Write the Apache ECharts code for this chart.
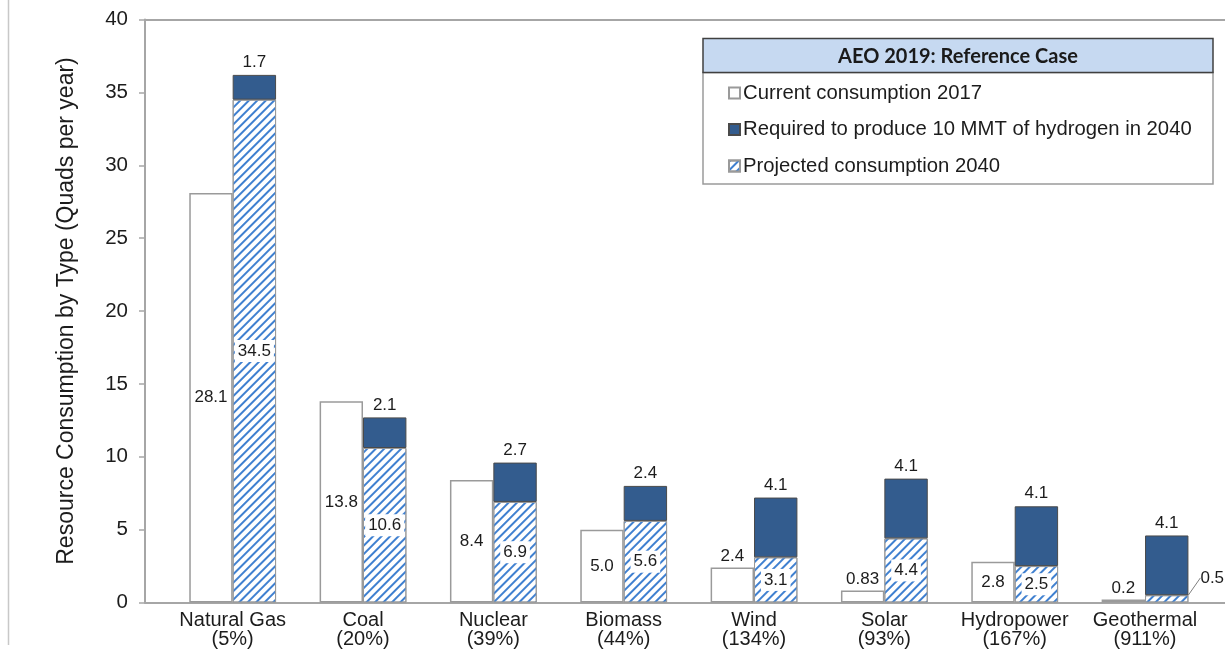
<!DOCTYPE html>
<html>
<head>
<meta charset="utf-8">
<script src="https://cdn.jsdelivr.net/npm/echarts@6/dist/echarts.min.js"></script>
<style>
  html, body { margin: 0; padding: 0; background: #fff; }
  #main { width: 1225px; height: 653px; }
</style>
</head>
<body>
<div id="main"></div>
<script>
// data
const categories = ['Natural Gas', 'Coal', 'Nuclear', 'Biomass', 'Wind', 'Solar', 'Hydropower', 'Geothermal'];
const growthPct = ['5%', '20%', '39%', '44%', '134%', '93%', '167%', '911%'];
const current2017 = [28.1, 13.8, 8.4, 5.0, 2.4, 0.83, 2.8, 0.2];
const projected2040 = [34.5, 10.6, 6.9, 5.6, 3.1, 4.4, 2.5, 0.5];
const requiredH2 = [1.7, 2.1, 2.7, 2.4, 4.1, 4.1, 4.1, 4.1];
const yTicks = { min: 0, max: 40, interval: 5 };

const FONT = 'Liberation Sans';
const TXT = '#1c1c1c';
const AXIS_GRAY = '#a6a6a6';

// 5 -> "5.0", 0.83 stays "0.83"
const fmt = v => (String(v).indexOf('.') >= 0 ? String(v) : v.toFixed(1));

const chart = echarts.init(document.getElementById('main'));

const option = {
  animation: false,
  textStyle: { fontFamily: FONT },
  grid: [
    // bars
    { left: 167.5, right: 14.8, top: 19.5, bottom: 50.5 },
    // frame (axis lines run to the cropped right edge)
    { left: 145, right: -20, top: 19.5, bottom: 50.5 }
  ],
  xAxis: [
    {
      type: 'category',
      gridIndex: 0,
      data: categories.map((c, i) => c + '\n(' + growthPct[i] + ')'),
      axisLine: { show: false },
      axisTick: { show: false },
      axisLabel: { fontFamily: FONT, fontSize: 20, lineHeight: 19, color: TXT, margin: 8, interval: 0 }
    },
    {
      type: 'value', gridIndex: 1, position: 'bottom', min: 0, max: 1,
      axisLine: { show: true, lineStyle: { color: AXIS_GRAY, width: 2 } },
      axisTick: { show: false }, axisLabel: { show: false }, splitLine: { show: false }
    },
    {
      type: 'value', gridIndex: 1, position: 'top', min: 0, max: 1,
      axisLine: { show: true, lineStyle: { color: AXIS_GRAY, width: 2 } },
      axisTick: { show: false }, axisLabel: { show: false }, splitLine: { show: false }
    }
  ],
  yAxis: [
    { type: 'value', gridIndex: 0, ...yTicks, show: false, splitLine: { show: false } },
    {
      type: 'value', gridIndex: 1, ...yTicks,
      name: 'Resource Consumption by Type (Quads per year)',
      nameLocation: 'middle',
      nameGap: 67,
      nameTextStyle: { fontFamily: FONT, fontSize: 23, color: TXT },
      axisLine: { show: true, lineStyle: { color: AXIS_GRAY, width: 2 } },
      axisTick: { show: true, length: 6, lineStyle: { color: AXIS_GRAY, width: 1.5 } },
      axisLabel: { fontFamily: FONT, fontSize: 20.5, color: TXT, margin: 17 },
      splitLine: { show: false }
    }
  ],
  legend: {
    data: ['Current consumption 2017', 'Required to produce 10 MMT of hydrogen in 2040', 'Projected consumption 2040'],
    orient: 'vertical',
    left: 728,
    top: 82,
    padding: 0,
    itemGap: 14.5,
    itemWidth: 11,
    itemHeight: 11,
    icon: 'rect',
    textStyle: { fontFamily: FONT, fontSize: 20.3, color: TXT, padding: [0, 0, 0, -2], lineHeight: 22 }
  },
  graphic: [
    { type: 'line', shape: { x1: 8.5, y1: 0, x2: 8.5, y2: 645 }, style: { stroke: '#c8c8c8', lineWidth: 1.5 } },
    { type: 'rect', z: -1, shape: { x: 703, y: 72.5, width: 510, height: 111.5 }, style: { fill: '#fff', stroke: '#9a9a9a', lineWidth: 1.5 } },
    { type: 'rect', z: -1, shape: { x: 703, y: 38.5, width: 510, height: 34 }, style: { fill: '#c6d9f1', stroke: '#404040', lineWidth: 1.5 } },
    {
      type: 'text', x: 958, y: 57,
      style: { text: 'AEO 2019: Reference Case', fontFamily: 'Lato', fontWeight: 'bold', fontSize: 20, fill: '#1a1a1a', align: 'center', verticalAlign: 'middle' }
    }
  ],
  series: [
    {
      name: 'Current consumption 2017',
      type: 'bar',
      xAxisIndex: 0, yAxisIndex: 0,
      barGap: 0,
      barCategoryGap: '33.4%',
      itemStyle: { color: '#ffffff', borderColor: '#9a9a9a', borderWidth: 1.5 },
      label: {
        show: true, fontFamily: FONT, fontSize: 17, color: TXT,
        formatter: p => fmt(p.value)
      },
      data: current2017.map(v => ({
        value: v,
        label: { position: v < 2.5 ? 'top' : 'inside', distance: 3 }
      }))
    },
    {
      name: 'Projected consumption 2040',
      type: 'bar',
      xAxisIndex: 0, yAxisIndex: 0,
      stack: 'p',
      itemStyle: {
        color: '#ffffff', borderColor: '#9a9a9a', borderWidth: 1,
        decal: {
          symbol: 'rect', symbolSize: 1, rotation: -Math.PI / 4,
          dashArrayX: [1, 0], dashArrayY: [2, 3.6], color: '#3f80d0'
        }
      },
      label: {
        show: true, fontFamily: FONT, fontSize: 17, color: TXT,
        formatter: p => fmt(p.value)
      },
      labelLine: { lineStyle: { color: '#7f7f7f', width: 1 } },
      labelLayout: p => (projected2040[p.dataIndex] < 1 ? { dx: 8, dy: -21 } : {}),
      data: projected2040.map(v => (v < 1
        ? { value: v, label: { position: 'right', distance: 4 }, labelLine: { show: true } }
        : { value: v, label: { position: 'inside', backgroundColor: '#fff', padding: [3, 3, 2, 3] } }))
    },
    {
      name: 'Required to produce 10 MMT of hydrogen in 2040',
      type: 'bar',
      xAxisIndex: 0, yAxisIndex: 0,
      stack: 'p',
      itemStyle: { color: '#335c8e', borderColor: '#4a4a4a', borderWidth: 1 },
      label: {
        show: true, position: 'top', distance: 4, fontFamily: FONT, fontSize: 17, color: TXT,
        formatter: p => fmt(p.value)
      },
      data: requiredH2
    }
  ]
};

chart.setOption(option);
</script>
</body>
</html>
